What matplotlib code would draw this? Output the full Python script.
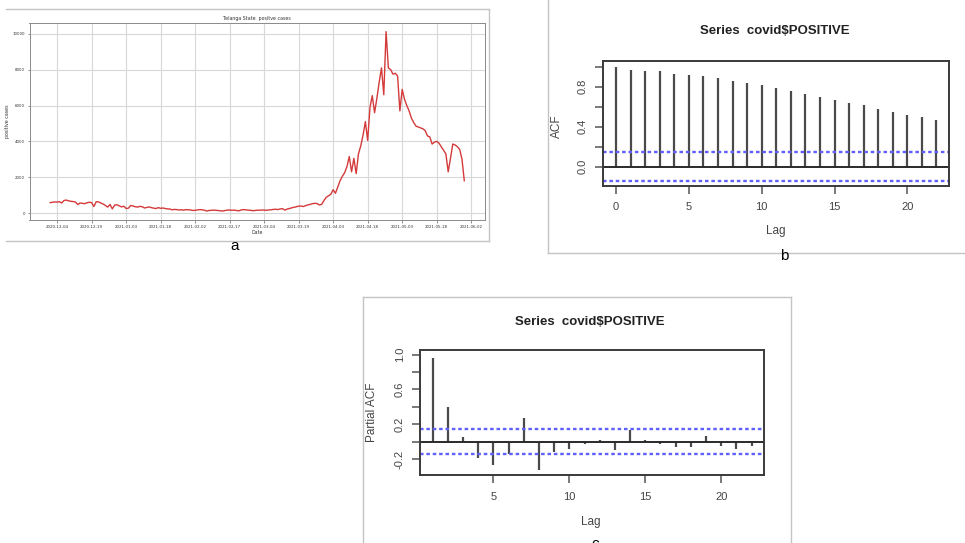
import numpy as np
import pandas as pd
import matplotlib
matplotlib.use('Agg')
import matplotlib.pyplot as plt
from matplotlib.lines import Line2D

W, H = 965, 543

# panel a: daily positive cases, 2020-12-01 .. 2021-05-30
cases = [580, 600, 620, 610, 630, 560, 700, 720, 680, 650,
         640, 610, 470, 560, 540, 520, 570, 600, 580, 360,
         630, 620, 560, 500, 420, 330, 480, 230, 440, 460,
         400, 340, 380, 250, 270, 420, 390, 350, 330, 370,
         350, 280, 310, 340, 300, 270, 250, 300, 260, 280,
         250, 230, 220, 180, 200, 190, 170, 180, 160, 190,
         180, 170, 140, 150, 170, 190, 180, 160, 110, 140,
         150, 160, 150, 140, 120, 110, 140, 160, 170, 150,
         160, 140, 120, 170, 190, 180, 160, 150, 130, 140,
         160, 150, 170, 160, 150, 170, 180, 200, 210, 190,
         230, 240, 160, 220, 250, 290, 320, 350, 380, 390,
         360, 410, 450, 480, 520, 540, 530, 450, 480, 700,
         880, 960, 1050, 1300, 1100, 1450, 1800, 2050, 2250, 2600,
         3150, 2300, 3050, 2200, 3300, 3750, 4350, 5100, 4050, 5900,
         6550, 5600, 6400, 7300, 8100, 6600, 10122, 8100, 8000, 7750,
         7800, 7650, 5700, 6900, 6350, 6000, 5700, 5300, 5050, 4850,
         4800, 4750, 4700, 4600, 4300, 4250, 3850, 3950, 4000, 3900,
         3700, 3500, 3300, 2300, 3050, 3850, 3800, 3700, 3550, 3000,
         1800]
dates = pd.date_range('2020-12-01', periods=len(cases), freq='D')
date_ticks = ['2020-12-04', '2020-12-19', '2021-01-03', '2021-01-18',
              '2021-02-02', '2021-02-17', '2021-03-04', '2021-03-19',
              '2021-04-03', '2021-04-18', '2021-05-03', '2021-05-18',
              '2021-06-02']
case_ticks = [0, 2000, 4000, 6000, 8000, 10000]

# panel b: ACF, lags 0..22
acf_vals = [1.0, 0.967, 0.957, 0.957, 0.931, 0.915, 0.905, 0.885, 0.856,
            0.833, 0.813, 0.787, 0.757, 0.728, 0.702, 0.666, 0.639, 0.613,
            0.574, 0.544, 0.521, 0.495, 0.466]
# panel c: PACF, lags 1..22
pacf_vals = [0.967, 0.40, 0.058, -0.19, -0.27, -0.14, 0.27, -0.33, -0.115,
             -0.084, -0.027, 0.02, -0.095, 0.135, 0.016, -0.027, -0.066,
             -0.066, 0.07, -0.046, -0.084, -0.046]
conf_limit = 0.146

acf_yticks = [0.0, 0.2, 0.4, 0.6, 0.8, 1.0]
acf_ylabels = ['0.0', '', '0.4', '', '0.8', '']
pacf_yticks = [-0.2, 0.0, 0.2, 0.4, 0.6, 0.8, 1.0]
pacf_ylabels = ['-0.2', '', '0.2', '', '0.6', '', '1.0']
lag_ticks = [0, 5, 10, 15, 20]


def box(l, t, r, b):
    return [l / W, 1 - b / H, (r - l) / W, (b - t) / H]


def line(x0, y0, x1, y1, color='#c4c4c4', lw=1.0):
    fig.add_artist(Line2D([x0 / W, x1 / W], [1 - y0 / H, 1 - y1 / H],
                          transform=fig.transFigure, color=color, lw=lw))


def ftext(x, y, s, **kw):
    fig.text(x / W, 1 - y / H, s, **kw)


fig = plt.figure(figsize=(W / 100, H / 100), dpi=100)

# frames of the three screenshots
line(6, 9.3, 489, 9.3)
line(489, 9.3, 489, 240.7)
line(6, 240.7, 489, 240.7)
line(547.7, 0, 547.7, 252.7)
line(547.7, 252.7, 965, 252.7)
line(363, 297, 791, 297)
line(363, 297, 363, 543)
line(791, 297, 791, 543)

ftext(235, 246, 'a', ha='center', va='center', fontsize=11, family='Liberation Sans')
ftext(784, 256, 'b', ha='center', va='center', fontsize=11, family='Liberation Sans')
ftext(595, 537, 'c', ha='center', va='top', fontsize=11, family='Liberation Sans')

# ---- panel a
ax = fig.add_axes(box(29.5, 22.7, 485, 220))
ax.plot(dates, cases, color='#d43a3a', lw=1.0)
ax.set_xticks(pd.to_datetime(date_ticks))
ax.set_xticklabels(date_ticks)
ax.set_yticks(case_ticks)
ax.grid(color='#d8d8d8', lw=0.8)
ax.set_axisbelow(True)
for s in ax.spines.values():
    s.set_color('#8a8a8a')
    s.set_linewidth(0.7)
ax.tick_params(labelsize=2.9, length=1.8, width=0.5, pad=1.5,
               color='#666666', labelcolor='#333333')
ax.set_title('Telanga State  positve cases', fontsize=3.4, pad=2.2, color='#333333')
ax.set_xlabel('Date', fontsize=3.4, labelpad=1, color='#333333')
ax.set_ylabel('positive cases', fontsize=3.4, labelpad=2, color='#333333')

rfont = 'Liberation Sans'


def r_style(a, xt, yt, ylabels):
    a.set_xticks(xt)
    a.set_xticklabels([str(v) for v in xt], family=rfont)
    a.set_yticks(yt)
    a.set_yticklabels(ylabels, rotation=90, va='center', family=rfont)
    for s in a.spines.values():
        s.set_color('#3a3a3a')
        s.set_linewidth(1.4)
    a.tick_params(direction='out', length=5.5, width=1.1, labelsize=8,
                  color='#555555', labelcolor='#444444')
    a.tick_params(axis='x', pad=6.5)
    a.tick_params(axis='y', pad=5.5)


# ---- panel b: ACF
axb = fig.add_axes(box(603.3, 61, 949.3, 185.7))
lags_b = np.arange(len(acf_vals))
axb.vlines(lags_b, 0, acf_vals, color='#4a4a4a', lw=1.6)
axb.axhline(0, color='#2a2a2a', lw=1.4)
axb.axhline(conf_limit, color='#6060ff', lw=1.7, ls=(0, (1.5, 1.2)))
axb.axhline(-conf_limit, color='#6060ff', lw=1.7, ls=(0, (1.5, 1.2)))
axb.set_xlim(-0.88, 22.88)
axb.set_ylim(-0.19, 1.057)
r_style(axb, lag_ticks, acf_yticks, acf_ylabels)
ftext(775, 31, 'Series  covid$POSITIVE', ha='center', va='center',
      fontsize=9.5, fontweight='bold', family=rfont, color='#222222')
ftext(776, 231, 'Lag', ha='center', va='center', fontsize=8.5, family=rfont, color='#444444')
ftext(557, 126, 'ACF', ha='center', va='center', rotation=90, fontsize=8.5,
      family=rfont, color='#444444')

# ---- panel c: PACF
axc = fig.add_axes(box(420, 350, 764.3, 475))
lags_c = np.arange(1, len(pacf_vals) + 1)
axc.vlines(lags_c, 0, pacf_vals, color='#4a4a4a', lw=1.6)
axc.axhline(0, color='#2a2a2a', lw=1.4)
axc.axhline(conf_limit, color='#6060ff', lw=1.7, ls=(0, (1.5, 1.2)))
axc.axhline(-conf_limit, color='#6060ff', lw=1.7, ls=(0, (1.5, 1.2)))
axc.set_xlim(0.16, 22.84)
axc.set_ylim(-0.383, 1.054)
r_style(axc, lag_ticks[1:], pacf_yticks, pacf_ylabels)
ftext(590, 321.7, 'Series  covid$POSITIVE', ha='center', va='center',
      fontsize=9.5, fontweight='bold', family=rfont, color='#222222')
ftext(591, 521.7, 'Lag', ha='center', va='center', fontsize=8.5, family=rfont, color='#444444')
ftext(372, 412, 'Partial ACF', ha='center', va='center', rotation=90, fontsize=8.5,
      family=rfont, color='#444444')

fig.savefig('out.png', dpi=100)
